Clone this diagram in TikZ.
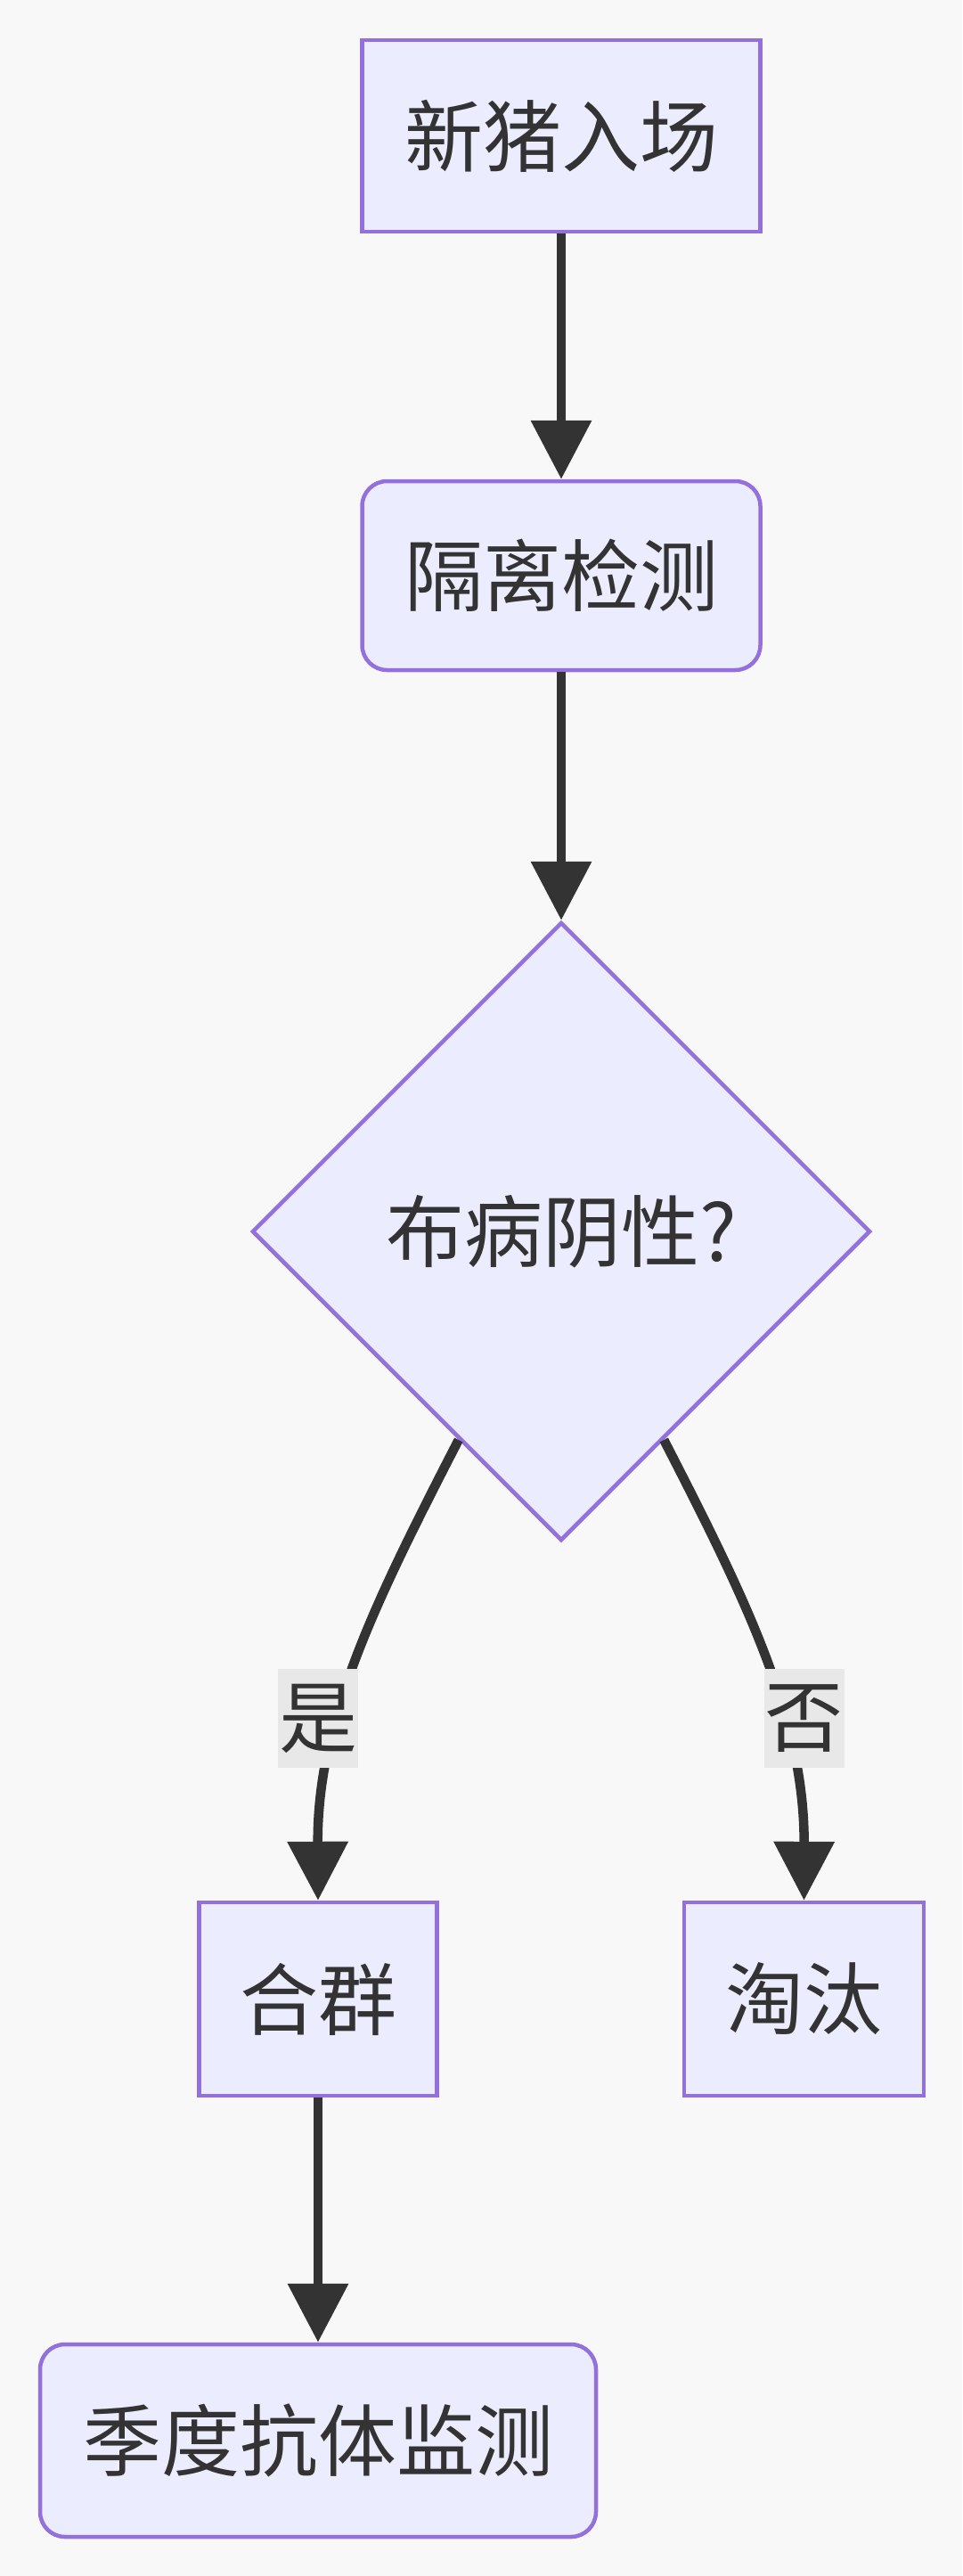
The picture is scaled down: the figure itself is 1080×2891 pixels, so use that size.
\documentclass[tikz,border=0pt]{standalone}
\usepackage{fontspec}
\setmainfont{Noto Sans CJK SC}
\usetikzlibrary{shapes.geometric,arrows.meta,calc}
\definecolor{bgc}{HTML}{F8F8F8}
\definecolor{nodefill}{HTML}{ECECFF}
\definecolor{nodeborder}{HTML}{9370DB}
\definecolor{linec}{HTML}{333333}
\definecolor{labelbg}{HTML}{E8E8E8}
\begin{document}
\begin{tikzpicture}[x=1pt,y=-1pt,
  every node/.style={font=\fontsize{88}{100}\selectfont, text=linec},
  box/.style={draw=nodeborder, fill=nodefill, line width=4.5pt, inner sep=0pt, minimum height=215pt},
  rbox/.style={box, rounded corners=28pt},
  dia/.style={draw=nodeborder, fill=nodefill, line width=4.5pt, diamond, inner sep=0pt, minimum width=694pt, minimum height=694pt},
  edgelbl/.style={fill=labelbg, inner sep=0pt, minimum width=90pt, minimum height=111pt},
  conn/.style={draw=linec, line width=10.5pt, -{Triangle[length=66pt,width=66pt]}}
]
\useasboundingbox (0,0) rectangle (1080,2891);
\fill[bgc] (0,0) rectangle (1080,2891);

\node[box, minimum width=447pt] (n1) at (630,152.5) {新猪入场};
\node[rbox, minimum width=447pt, minimum height=212pt] (n2) at (630,646) {隔离检测};
\node[dia] (d) at (630,1382) {布病阴性?};
\node[box, minimum width=267pt, minimum height=217pt] (n3) at (357,2243.5) {合群};
\node[box, minimum width=269pt, minimum height=217pt] (n4) at (902.5,2243.5) {淘汰};
\node[rbox, minimum width=624pt, minimum height=216pt] (n5) at (357,2739) {季度抗体监测};

\draw[conn] (n1.south) -- (n2.north);
\draw[conn] (n2.south) -- (d.north);

\coordinate (dl) at ($(d.west)!0.67!(d.south)$);
\coordinate (dr) at ($(d.east)!0.67!(d.south)$);
\draw[conn] (dl) .. controls (420,1800) and (356,1930) .. (n3.north);
\draw[conn] (dr) .. controls (840,1800) and (903,1930) .. (n4.north);

\node[edgelbl] (l1) at (357,1928.5) {是};
\node[edgelbl] (l2) at (902.5,1928.5) {否};

\draw[conn] (n3.south) -- (n5.north);
\end{tikzpicture}
\end{document}
